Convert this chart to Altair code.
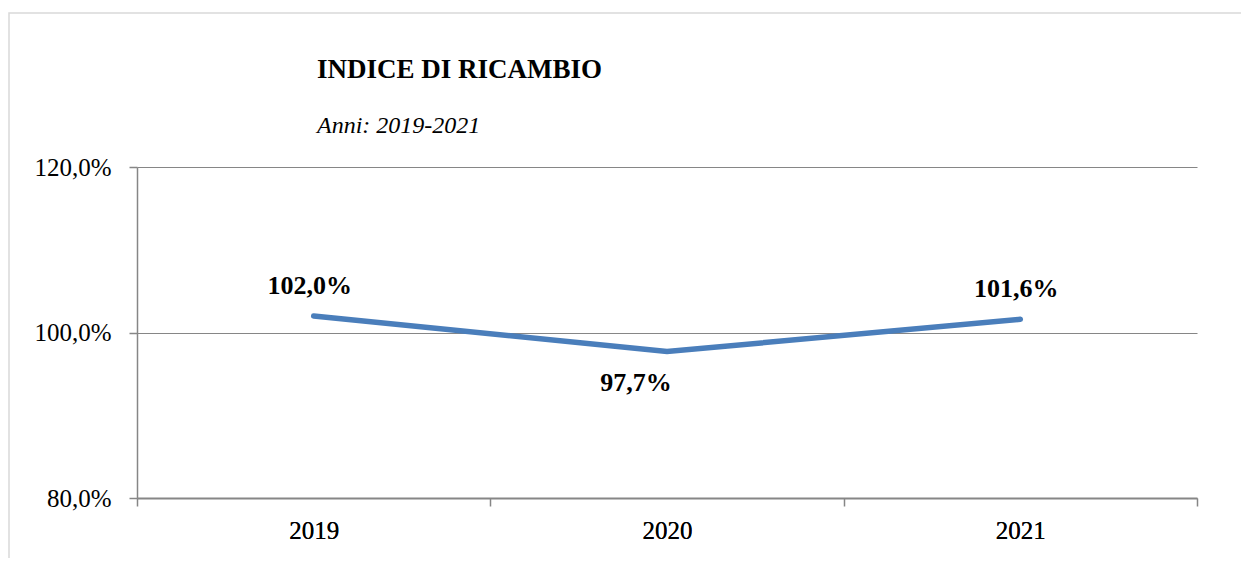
import altair as alt
import pandas as pd

# ---- data ----
anni = [2019, 2020, 2021]
valori = [102.0, 97.7, 101.6]
etichette = ["102,0%", "97,7%", "101,6%"]
posizione = ["sopra", "sotto", "sopra"]
y_ticks = [80, 100, 120]
titolo = "INDICE DI RICAMBIO"
sottotitolo = "Anni: 2019-2021"

df = pd.DataFrame({"anno": anni, "valore": valori, "etichetta": etichette, "pos": posizione})
bordi = [a - 0.5 for a in anni] + [anni[-1] + 0.5]

GRAY = "#868686"
BLUE = "#4a7ebb"
FONT = "Liberation Serif"

x_scale = alt.Scale(domain=[bordi[0], bordi[-1]], nice=False, zero=False)
y_scale = alt.Scale(domain=[y_ticks[0], y_ticks[-1]], nice=False, zero=False)

y_axis = alt.Axis(
    values=y_ticks,
    labelExpr="replace(format(datum.value, '.1f'), '.', ',') + '%'",
    title=None, grid=True, gridColor=GRAY, gridWidth=1.2,
    domain=True, domainColor=GRAY, domainWidth=1.5,
    ticks=True, tickColor=GRAY, tickSize=8, tickWidth=1.5,
    labelFont=FONT, labelFontSize=25, labelColor="black", labelPadding=18,
)

x_axis_ticks = alt.Axis(
    values=bordi, labels=False, title=None, grid=False,
    domain=True, domainColor=GRAY, domainWidth=1.8,
    ticks=True, tickColor=GRAY, tickSize=8, tickWidth=1.5, orient="bottom",
)
x_axis_labels = alt.Axis(
    values=anni, format="d", title=None, grid=False, domain=False, ticks=False,
    labelFont=FONT, labelFontSize=25, labelColor="black", labelPadding=20, orient="bottom",
)

one = pd.DataFrame({"f": [0]})

frame = alt.Chart(one).mark_rect(
    fillOpacity=0, stroke="#d9d9d9", strokeWidth=1.5
).encode(
    x=alt.value(-128), x2=alt.value(1400), y=alt.value(-154), y2=alt.value(700)
)

title_t = alt.Chart(one).mark_text(
    text=titolo, font=FONT, fontSize=27, fontWeight="bold", color="black",
    align="left", baseline="alphabetic"
).encode(x=alt.value(180), y=alt.value(-89))

sub_t = alt.Chart(one).mark_text(
    text=sottotitolo, font=FONT, fontSize=24, fontStyle="italic", color="black",
    align="left", baseline="alphabetic"
).encode(x=alt.value(180), y=alt.value(-34))

base = alt.Chart(df)

line = base.mark_line(color=BLUE, strokeWidth=5.5, strokeCap="round").encode(
    x=alt.X("anno:Q", scale=x_scale, axis=x_axis_ticks),
    y=alt.Y("valore:Q", scale=y_scale, axis=y_axis),
)

above = base.transform_filter("datum.pos == 'sopra'").mark_text(
    font=FONT, fontSize=26, fontWeight="bold", color="black", dy=-30, dx=-4, baseline="middle"
).encode(
    x=alt.X("anno:Q", scale=x_scale, axis=x_axis_labels),
    y=alt.Y("valore:Q", scale=y_scale, axis=y_axis),
    text="etichetta:N",
)

below = base.transform_filter("datum.pos == 'sotto'").mark_text(
    font=FONT, fontSize=26, fontWeight="bold", color="black", dy=31, dx=-31, baseline="middle"
).encode(
    x=alt.X("anno:Q", scale=x_scale, axis=x_axis_labels),
    y=alt.Y("valore:Q", scale=y_scale, axis=y_axis),
    text="etichetta:N",
)

chart = alt.layer(frame, title_t, sub_t, line, above, below).resolve_axis(x="independent").properties(
    width=1060, height=331,
    background="white",
    padding={"left": 129, "top": 159, "right": 44, "bottom": 60},
    autosize=alt.AutoSizeParams(type="none"),
).configure_view(stroke="transparent", strokeWidth=0)

chart.save("out.html", embed_options={"renderer": "svg", "actions": False})
